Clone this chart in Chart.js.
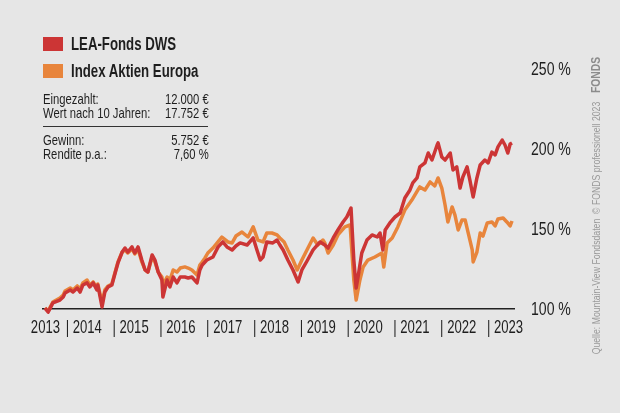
<!DOCTYPE html>
<html><head><meta charset="utf-8">
<script src="https://cdn.jsdelivr.net/npm/chart.js@4.4.0/dist/chart.umd.min.js"></script>
<style>
html,body{margin:0;padding:0;background:#e6e6e6;}
#wrap{position:relative;width:620px;height:413px;overflow:hidden;background:#e6e6e6;font-family:"Liberation Sans",Arial,sans-serif;color:#222;}
canvas{position:absolute;left:0;top:0;}
.sw{position:absolute;left:43px;width:20px;height:14px;}
.lg{position:absolute;left:71px;font-weight:bold;font-size:18px;line-height:20px;white-space:nowrap;color:#1e1e1e;transform:scaleX(0.735);transform-origin:0 50%;}
.row{position:absolute;left:43px;width:221px;font-size:15px;line-height:16px;white-space:nowrap;color:#1e1e1e;transform:scaleX(0.75);transform-origin:0 50%;}
.row .v{position:absolute;right:0;top:0;}
.rule{position:absolute;left:43px;width:165px;top:126px;height:1px;background:#333;}
.rot{position:absolute;white-space:nowrap;text-align:center;transform-origin:50% 50%;}
</style></head>
<body>
<div id="wrap">
<canvas id="c" width="620" height="413"></canvas>
<div class="sw" style="top:37px;background:#cc3535;"></div>
<div class="lg" style="top:34px;">LEA-Fonds DWS</div>
<div class="sw" style="top:64px;background:#e8853c;"></div>
<div class="lg" style="top:61px;">Index Aktien Europa</div>
<div class="row" style="top:91px;">Eingezahlt:<span class="v">12.000 €</span></div>
<div class="row" style="top:105px;">Wert nach 10 Jahren:<span class="v">17.752 €</span></div>
<div class="rule"></div>
<div class="row" style="top:132px;">Gewinn:<span class="v">5.752 €</span></div>
<div class="row" style="top:146px;">Rendite p.a.:<span class="v">7,60 %</span></div>
<div class="rot" style="left:426px;top:221px;width:340px;height:14px;font-size:11px;line-height:14px;color:#999;transform:rotate(-90deg) scaleX(0.79);">Quelle: Mountain-View Fondsdaten&nbsp;&nbsp;© FONDS professionell 2023</div>
<div class="rot" style="left:566px;top:68px;width:60px;height:14px;font-size:12px;line-height:14px;font-weight:bold;color:#8c8c8c;transform:rotate(-90deg) scaleX(0.86);">FONDS</div>
</div>
<script>
// LEA-Fonds DWS (indexed, % of start)
const leaYears = [2013.55,2013.62,2013.72,2013.87,2013.94,2013.98,2014.09,2014.15,2014.24,2014.30,2014.36,2014.45,2014.51,2014.58,2014.66,2014.68,2014.77,2014.83,2014.90,2014.98,2015.05,2015.11,2015.20,2015.26,2015.32,2015.41,2015.47,2015.54,2015.62,2015.69,2015.75,2015.84,2015.90,2015.97,2016.05,2016.07,2016.16,2016.22,2016.29,2016.37,2016.44,2016.54,2016.61,2016.69,2016.80,2016.86,2016.91,2016.97,2017.01,2017.14,2017.25,2017.35,2017.44,2017.55,2017.63,2017.72,2017.87,2018.00,2018.08,2018.15,2018.21,2018.29,2018.42,2018.51,2018.57,2018.64,2018.74,2018.85,2018.96,2019.04,2019.15,2019.28,2019.43,2019.53,2019.60,2019.71,2019.81,2019.92,2020.00,2020.09,2020.15,2020.20,2020.24,2020.32,2020.43,2020.54,2020.65,2020.71,2020.77,2020.82,2020.92,2021.03,2021.14,2021.24,2021.35,2021.41,2021.50,2021.56,2021.67,2021.74,2021.82,2021.93,2021.95,2022.03,2022.10,2022.21,2022.27,2022.35,2022.42,2022.48,2022.57,2022.63,2022.70,2022.78,2022.85,2022.95,2023.02,2023.10,2023.17,2023.23,2023.32,2023.38,2023.44,2023.49,2023.53];
const leaValues = [100.6,98.1,103.8,105.6,107.5,110.0,111.9,110.6,113.1,110.6,115.0,116.3,113.8,116.3,111.9,115.0,101.3,110.6,113.8,115.0,122.5,128.8,135.6,138.1,135.6,138.8,135.0,138.8,130.6,124.4,123.1,133.8,130.6,123.1,118.1,107.5,118.1,113.8,120.0,116.3,120.0,120.0,119.4,120.0,116.3,124.4,127.5,129.4,130.6,132.5,138.8,141.9,138.8,136.9,139.4,141.3,140.0,144.4,136.9,130.6,132.5,141.9,141.3,143.1,140.0,136.9,130.6,124.4,116.9,124.4,130.0,136.9,141.9,140.0,138.1,144.4,149.4,154.4,157.5,163.1,130.6,113.1,120.0,135.0,143.1,146.3,145.0,147.5,136.9,149.4,153.8,157.5,160.0,169.4,174.4,178.8,181.9,188.8,191.3,197.5,193.1,202.5,203.8,195.0,193.1,197.5,186.9,188.8,175.6,182.5,188.8,180.6,170.0,181.9,190.0,193.1,191.3,198.1,196.3,201.3,205.6,202.5,197.5,203.1,203.8];
// Index Aktien Europa
const idxYears = [2013.55,2013.62,2013.72,2013.87,2013.94,2013.98,2014.09,2014.15,2014.24,2014.30,2014.36,2014.45,2014.51,2014.58,2014.66,2014.68,2014.77,2014.83,2014.90,2014.98,2015.05,2015.11,2015.20,2015.26,2015.32,2015.41,2015.47,2015.54,2015.62,2015.69,2015.75,2015.84,2015.90,2015.97,2016.05,2016.07,2016.16,2016.22,2016.29,2016.37,2016.44,2016.54,2016.61,2016.69,2016.80,2016.86,2016.91,2016.97,2017.03,2017.14,2017.23,2017.33,2017.46,2017.55,2017.63,2017.76,2017.89,2018.00,2018.10,2018.21,2018.29,2018.40,2018.51,2018.57,2018.66,2018.74,2018.85,2018.94,2019.04,2019.17,2019.28,2019.38,2019.49,2019.53,2019.60,2019.71,2019.81,2019.96,2020.07,2020.15,2020.20,2020.28,2020.35,2020.45,2020.60,2020.75,2020.79,2020.86,2020.97,2021.09,2021.24,2021.39,2021.52,2021.56,2021.67,2021.78,2021.88,2021.95,2022.03,2022.10,2022.16,2022.25,2022.31,2022.38,2022.46,2022.53,2022.59,2022.68,2022.70,2022.78,2022.85,2022.91,2023.00,2023.10,2023.17,2023.23,2023.34,2023.42,2023.49,2023.53];
const idxValues = [100.6,98.8,104.4,106.9,108.8,111.3,113.1,111.9,114.4,112.5,116.3,118.1,115.0,116.9,113.1,115.6,103.8,111.9,114.4,115.6,123.1,129.4,135.6,136.9,135.0,137.5,134.4,137.5,129.4,124.4,123.1,132.5,129.4,123.1,120.0,115.0,120.0,118.1,124.4,123.1,125.6,126.3,125.6,124.4,121.3,127.5,129.4,131.9,135.0,138.1,141.3,145.0,141.9,141.3,145.6,148.1,145.0,151.3,143.1,141.9,147.5,147.5,146.3,144.4,141.9,136.9,130.6,124.4,130.6,138.1,144.4,140.0,143.1,141.3,135.0,140.0,146.3,151.3,152.5,118.1,105.6,118.1,126.3,130.6,132.5,135.0,126.3,141.3,144.4,151.3,161.9,168.1,174.4,176.3,174.4,179.4,176.9,181.9,175.6,165.0,154.4,163.8,158.8,149.4,155.6,155.6,148.1,136.9,129.4,135.6,147.5,145.6,153.8,154.4,151.9,156.3,156.9,154.4,151.9,155.0];
// axes
const yTicks = [100, 150, 200, 250];
const xTickYears = [2013.56, 2014.38, 2015.38, 2016.38, 2017.38, 2018.38, 2019.38, 2020.38, 2021.38, 2022.38, 2023.38];
const xTickLabels = ['2013', '| 2014', '| 2015', '| 2016', '| 2017', '| 2018', '| 2019', '| 2020', '| 2021', '| 2022', '| 2023'];

const FONT = '"Liberation Sans",Arial,sans-serif';
const pts = (xs, ys) => xs.map((x, i) => ({x, y: ys[i]}));

// draws the scales' own tick labels in a condensed (horizontally squeezed) face
function condensedText(ctx, text, x, y, size, sx, align) {
  ctx.save();
  ctx.font = size + 'px ' + FONT;
  ctx.fillStyle = '#1e1e1e';
  ctx.textBaseline = 'middle';
  ctx.textAlign = align;
  ctx.translate(x, y);
  ctx.scale(sx, 1);
  ctx.fillText(text, 0, 0);
  ctx.restore();
}
const condensedTicks = {
  id: 'condensedTicks',
  afterDraw(chart) {
    const ctx = chart.ctx;
    const xs = chart.scales.x, ys = chart.scales.y;
    xs.ticks.forEach(t => condensedText(ctx, t.label, xs.getPixelForValue(t.value), xs.top + 14, 19, 0.69, 'center'));
    ys.ticks.forEach(t => condensedText(ctx, t.label, ys.left + 16, ys.getPixelForValue(t.value) + 1, 19, 0.74, 'left'));
  }
};

new Chart(document.getElementById('c'), {
  type: 'line',
  data: {
    datasets: [
      {label: 'LEA-Fonds DWS', data: pts(leaYears, leaValues), borderColor: '#cc3535', borderWidth: 3.5, pointRadius: 0, tension: 0, borderJoinStyle: 'round'},
      {label: 'Index Aktien Europa', data: pts(idxYears, idxValues), borderColor: '#e8853c', borderWidth: 3.5, pointRadius: 0, tension: 0, borderJoinStyle: 'round'}
    ]
  },
  plugins: [condensedTicks],
  options: {
    responsive: false,
    animation: false,
    layout: {padding: {left: 42, right: 0, top: 66, bottom: 69}},
    plugins: {legend: {display: false}, tooltip: {enabled: false}},
    scales: {
      x: {
        type: 'linear', min: 2013.487, max: 2023.594,
        grid: {display: false, drawTicks: false}, border: {display: false},
        afterBuildTicks: s => { s.ticks = xTickYears.map(v => ({value: v})); },
        afterFit: s => { s.height = 30; s.paddingLeft = 0; s.paddingRight = 0; },
        ticks: {display: false, autoSkip: false, maxRotation: 0, callback: (v, i) => xTickLabels[i]}
      },
      y: {
        position: 'right', min: 96.875, max: 251.875,
        afterBuildTicks: s => { s.ticks = yTicks.map(v => ({value: v})); },
        afterFit: s => { s.width = 105; s.paddingTop = 0; s.paddingBottom = 0; },
        grid: {drawTicks: false, lineWidth: 1.5, color: c => (c.tick && c.tick.value === 100) ? '#222' : 'rgba(0,0,0,0)'},
        border: {display: false},
        ticks: {display: false, callback: v => v + ' %'}
      }
    }
  }
});
</script>
</body></html>
